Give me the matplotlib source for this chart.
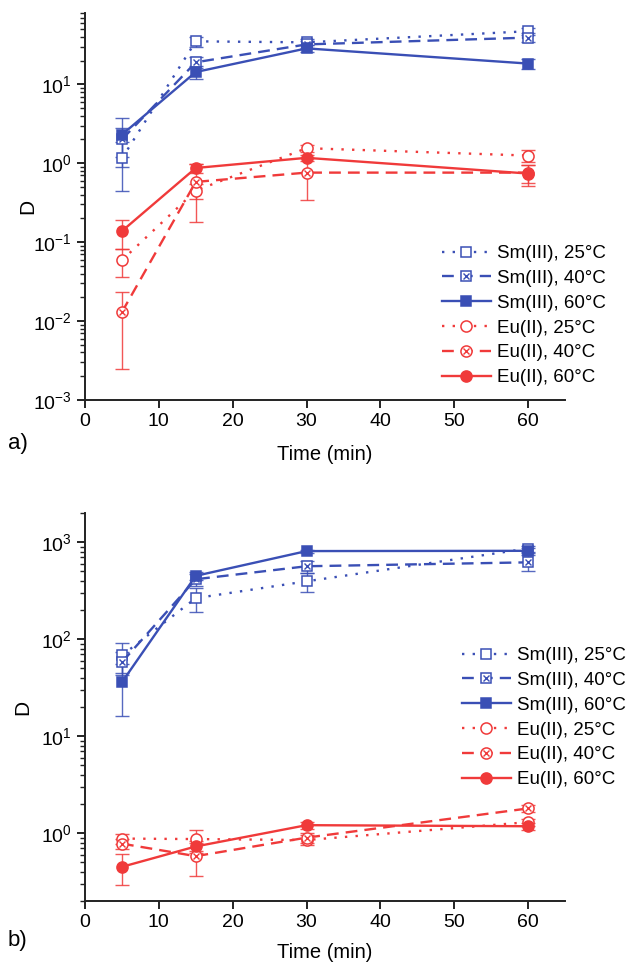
import matplotlib
matplotlib.use("Agg")
import matplotlib.pyplot as plt
from matplotlib.ticker import LogLocator, FuncFormatter, NullFormatter, MultipleLocator
from matplotlib.legend_handler import HandlerTuple

plt.rcParams['font.family'] = ['Liberation Sans', 'DejaVu Sans']
plt.rcParams['mathtext.fontset'] = 'custom'
plt.rcParams['mathtext.rm'] = 'Liberation Sans'
plt.rcParams['mathtext.default'] = 'regular'

time = [5, 15, 30, 60]
labels = ["Sm(III), 25°C", "Sm(III), 40°C", "Sm(III), 60°C",
          "Eu(II), 25°C", "Eu(II), 40°C", "Eu(II), 60°C"]

# panel a)
sm25_a = [1.15, 35, 34, 47]
sm25_a_err = [0.7, 5, 3, 5]
sm40_a = [2.0, 19, 32, 39]
sm40_a_err = [0.8, 3, 3, 5]
sm60_a = [2.3, 14.3, 28.5, 18.3]
sm60_a_err = [1.4, 2.5, 3, 2.5]
eu25_a = [0.059, 0.45, 1.55, 1.25]
eu25_a_err = [0.023, 0.1, 0.15, 0.2]
eu40_a = [0.013, 0.58, 0.76, 0.76]
eu40_a_err = [0.0105, 0.4, 0.42, 0.2]
eu60_a = [0.138, 0.87, 1.17, 0.74]
eu60_a_err = [0.055, 0.12, 0.1, 0.22]

# panel b)
sm25_b = [68, 265, 395, 860]
sm25_b_err = [23, 75, 90, 60]
sm40_b = [58, 415, 565, 620]
sm40_b_err = [15, 60, 80, 110]
sm60_b = [36, 450, 810, 815]
sm60_b_err = [20, 40, 30, 50]
eu25_b = [0.88, 0.87, 0.85, 1.3]
eu25_b_err = [0.1, 0.22, 0.1, 0.1]
eu40_b = [0.78, 0.58, 0.9, 1.8]
eu40_b_err = [0.1, 0.22, 0.1, 0.15]
eu60_b = [0.45, 0.73, 1.21, 1.18]
eu60_b_err = [0.16, 0.1, 0.1, 0.1]

BLUE = '#3a4fb5'
RED = '#f03a3a'

W, H = 633, 963
fig = plt.figure(figsize=(W / 100, H / 100), dpi=100)


def fmt(v, pos):
    import math
    e = int(round(math.log10(v)))
    return r'$10^{%d}$' % e


def draw(ax, data, errs, ylim, legend_anchor):
    styles = [
        (BLUE, ':', 's', 'open', False),
        (BLUE, '--', 's', 'open', True),
        (BLUE, '-', 's', 'filled', False),
        (RED, ':', 'o', 'open', False),
        (RED, '--', 'o', 'open', True),
        (RED, '-', 'o', 'filled', False),
    ]
    handles = []
    for (c, ls, mk, fill, cross), y, e in zip(styles, data, errs):
        ax.errorbar(time, y, yerr=e, fmt='none', ecolor=c, elinewidth=1.0,
                    capsize=5, capthick=1.0, alpha=0.85, zorder=2)
        dash = (0, (1, 3.5)) if ls == ':' else ((0, (5, 3)) if ls == '--' else '-')
        ln, = ax.plot(time, y, linestyle=dash, color=c, lw=1.7, marker=mk,
                      markersize=7.5 if mk == 's' else 8,
                      markerfacecolor=c if fill == 'filled' else 'white',
                      markeredgecolor=c, markeredgewidth=1.1, zorder=3)
        if cross:
            xm, = ax.plot(time, y, linestyle='none', marker='x', markersize=5,
                          markeredgecolor=c, markeredgewidth=1.0, zorder=4)
            handles.append((ln, xm))
        else:
            handles.append(ln)
    ax.set_yscale('log')
    ax.set_ylim(*ylim)
    ax.set_xlim(0, 65)
    ax.xaxis.set_major_locator(MultipleLocator(10))
    ax.yaxis.set_major_locator(LogLocator(base=10, numticks=20))
    ax.yaxis.set_minor_locator(LogLocator(base=10, subs=range(2, 10), numticks=50))
    ax.yaxis.set_major_formatter(FuncFormatter(fmt))
    ax.yaxis.set_minor_formatter(NullFormatter())
    for s in ['top', 'right']:
        ax.spines[s].set_visible(False)
    for s in ['left', 'bottom']:
        ax.spines[s].set_linewidth(1.4)
        ax.spines[s].set_color('#222222')
    ax.tick_params(which='major', direction='out', length=6, width=1.4,
                   labelsize=14, colors='#222222', labelcolor='black')
    ax.tick_params(which='minor', direction='out', length=3.5, width=1.0,
                   colors='#222222')
    ax.set_xlabel('Time (min)', fontsize=14.5)
    ax.set_ylabel('D', fontsize=15)
    leg = fig.legend(handles, labels, loc='upper left',
                     bbox_to_anchor=legend_anchor, frameon=False,
                     fontsize=13.5, handlelength=2.6, handletextpad=0.35,
                     labelspacing=0.41, borderpad=0, borderaxespad=0,
                     handler_map={tuple: HandlerTuple(ndivide=1)})
    return leg


ax1 = fig.add_axes([85 / W, 1 - 400 / H, 480 / W, 387 / H])
draw(ax1, [sm25_a, sm40_a, sm60_a, eu25_a, eu40_a, eu60_a],
     [sm25_a_err, sm40_a_err, sm60_a_err, eu25_a_err, eu40_a_err, eu60_a_err],
     (1e-3, 80), (442 / W, 1 - 245 / H))
ax1.xaxis.set_label_coords(0.5, -0.115)
ax1.yaxis.set_label_coords(-0.1, 0.5)

ax2 = fig.add_axes([85 / W, 1 - 901 / H, 480 / W, 388 / H])
draw(ax2, [sm25_b, sm40_b, sm60_b, eu25_b, eu40_b, eu60_b],
     [sm25_b_err, sm40_b_err, sm60_b_err, eu25_b_err, eu40_b_err, eu60_b_err],
     (0.2, 2000), (462 / W, 1 - 647 / H))
ax2.xaxis.set_label_coords(0.5, -0.108)
ax2.yaxis.set_label_coords(-0.11, 0.5)

fig.text(8 / W, 1 - 443 / H, 'a)', fontsize=16, va='center', ha='left')
fig.text(8 / W, 1 - 940 / H, 'b)', fontsize=16, va='center', ha='left')

fig.savefig('out.png', dpi=100)
